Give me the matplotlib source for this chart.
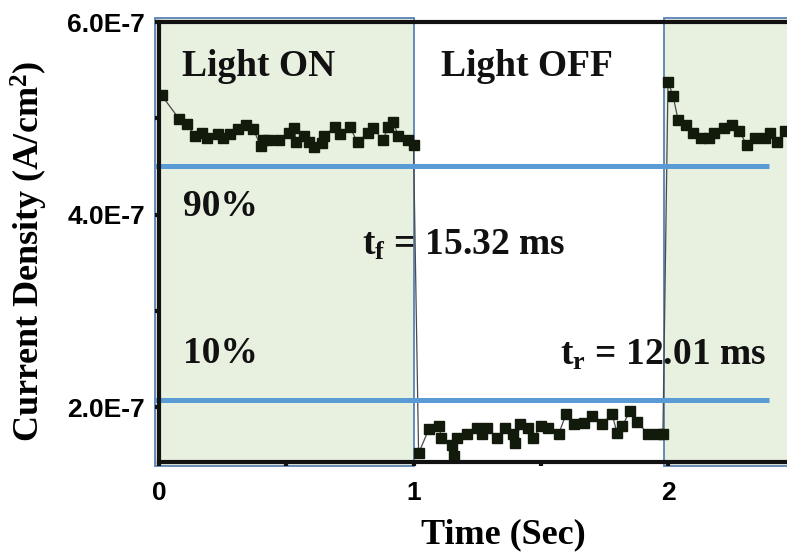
import matplotlib
matplotlib.use("Agg")
import matplotlib.pyplot as plt
from matplotlib.patches import Rectangle

# ---- data ----
time_on1 = [0.01, 0.08, 0.11, 0.14, 0.17, 0.19, 0.23, 0.25, 0.28, 0.31, 0.34, 0.37,
            0.40, 0.41, 0.43, 0.47, 0.51, 0.53, 0.54, 0.57, 0.59, 0.61, 0.64, 0.65,
            0.69, 0.71, 0.75, 0.78, 0.82, 0.84, 0.88, 0.90, 0.92, 0.94, 0.98, 1.00]
cur_on1 = [5.24, 4.99, 4.94, 4.82, 4.85, 4.80, 4.84, 4.79, 4.84, 4.89, 4.93, 4.89,
           4.71, 4.77, 4.77, 4.77, 4.85, 4.90, 4.75, 4.82, 4.75, 4.70, 4.74, 4.82,
           4.91, 4.84, 4.91, 4.75, 4.85, 4.90, 4.77, 4.91, 4.96, 4.82, 4.77, 4.72]
time_off = [1.02, 1.06, 1.10, 1.11, 1.15, 1.16, 1.17, 1.21, 1.25, 1.27, 1.29, 1.33,
            1.36, 1.39, 1.40, 1.42, 1.45, 1.47, 1.50, 1.53, 1.57, 1.60, 1.63, 1.67,
            1.70, 1.74, 1.78, 1.80, 1.82, 1.85, 1.88, 1.92, 1.96, 1.98]
cur_off = [1.52, 1.77, 1.80, 1.68, 1.61, 1.49, 1.68, 1.72, 1.78, 1.72, 1.78, 1.68,
           1.78, 1.72, 1.63, 1.82, 1.78, 1.68, 1.80, 1.78, 1.72, 1.93, 1.82, 1.83,
           1.91, 1.82, 1.93, 1.73, 1.80, 1.96, 1.85, 1.72, 1.72, 1.72]
time_on2 = [2.00, 2.02, 2.04, 2.07, 2.10, 2.13, 2.16, 2.18, 2.22, 2.25, 2.28, 2.31,
            2.34, 2.38, 2.40, 2.43, 2.46]
cur_on2 = [5.38, 5.23, 4.98, 4.93, 4.85, 4.80, 4.79, 4.85, 4.90, 4.93, 4.87, 4.72,
           4.79, 4.80, 4.85, 4.75, 4.87]
scale = 1e-7

level_90 = 4.50e-7
level_10 = 2.07e-7
light_on_spans = [(0.0, 1.0), (2.0, 3.0)]

x_ticks = [0, 1, 2]
x_ticklabels = ["0", "1", "2"]
y_ticks = [2e-7, 4e-7, 6e-7]
y_ticklabels = ["2.0E-7", "4.0E-7", "6.0E-7"]

# ---- figure ----
plt.rcParams['mathtext.fontset'] = 'custom'
plt.rcParams['mathtext.rm'] = 'Liberation Serif:bold'
plt.rcParams['mathtext.bf'] = 'Liberation Serif:bold'
plt.rcParams['mathtext.it'] = 'Liberation Serif:bold'

fig = plt.figure(figsize=(7.87, 5.57), dpi=100)
ax = fig.add_axes([159/787, 1 - 462/557, 628/787, 440/557])
ax.set_xlim(0, 628/254.5)
ax.set_ylim(1.43e-7, 6.0e-7)

green = '#e8f0e0'
edge_blue = '#5b82b4'
for (x0, x1) in light_on_spans:
    ax.add_patch(Rectangle((x0 - 0.014, 1.39e-7), (x1 - x0) + 0.014, 6.04e-7 - 1.39e-7,
                           facecolor=green, edgecolor=edge_blue, lw=1.3,
                           clip_on=False, zorder=0))

time_all = time_on1 + time_off + time_on2
cur_all = [v * scale for v in cur_on1 + cur_off + cur_on2]
ax.plot(time_all, cur_all, color='#4a4a4a', lw=0.9, zorder=3)
ax.plot(time_all, cur_all, ls='none', marker='s', ms=6.5, color='#121a0c',
        mec='#121a0c', zorder=4)

line_blue = '#5b9bd5'
for lvl in (level_90, level_10):
    ax.plot([-0.014, 2.395], [lvl, lvl], color=line_blue, lw=3.6,
            solid_capstyle='butt', clip_on=False, zorder=5)

serif = 'Liberation Serif'
tkw = dict(family=serif, fontweight='bold', fontsize=27, color='#111111', va='baseline')
ax.text(0.090, 5.435e-7, 'Light ON', **tkw)
ax.text(1.108, 5.435e-7, 'Light OFF', **tkw)
ax.text(0.094, 3.98e-7, '90%', **tkw)
ax.text(0.094, 2.46e-7, '10%', **tkw)
ax.text(0.798, 3.58e-7, r'$\mathbf{t}_{\mathbf{f}}$ = 15.32 ms', **tkw)
ax.text(1.576, 2.44e-7, r'$\mathbf{t}_{\mathbf{r}}$ = 12.01 ms', **tkw)

# spines
for side in ('left', 'top', 'bottom'):
    ax.spines[side].set_linewidth(3.0)
    ax.spines[side].set_color('#111111')
    ax.spines[side].set_zorder(6)
ax.spines['right'].set_visible(False)

ax.set_xticks(x_ticks)
ax.set_xticklabels(x_ticklabels)
ax.set_yticks(y_ticks)
ax.set_yticklabels(y_ticklabels)
ax.set_xticks([0.5, 1.5], minor=True)
ax.set_yticks([3e-7, 5e-7], minor=True)
ax.tick_params(which='both', direction='out', length=3, width=3, color='#111111')
ax.tick_params(axis='x', pad=11)
ax.tick_params(axis='y', pad=7)
for lab in ax.get_xticklabels() + ax.get_yticklabels():
    lab.set_fontfamily('Liberation Sans')
    lab.set_fontweight('bold')
    lab.set_fontsize(19)

ax.set_xlabel('Time (Sec)', family=serif, fontweight='bold', fontsize=26)
ax.xaxis.set_label_coords((503 - 159) / 628, -(518 - 462) / 440)
ax.set_ylabel(r'Current Density (A/cm$^{\mathbf{2}}$)', family=serif,
              fontweight='bold', fontsize=26)
ax.yaxis.set_label_coords((50 - 159) / 628, (462 - 251) / 440)

fig.savefig('out.png', dpi=100)
